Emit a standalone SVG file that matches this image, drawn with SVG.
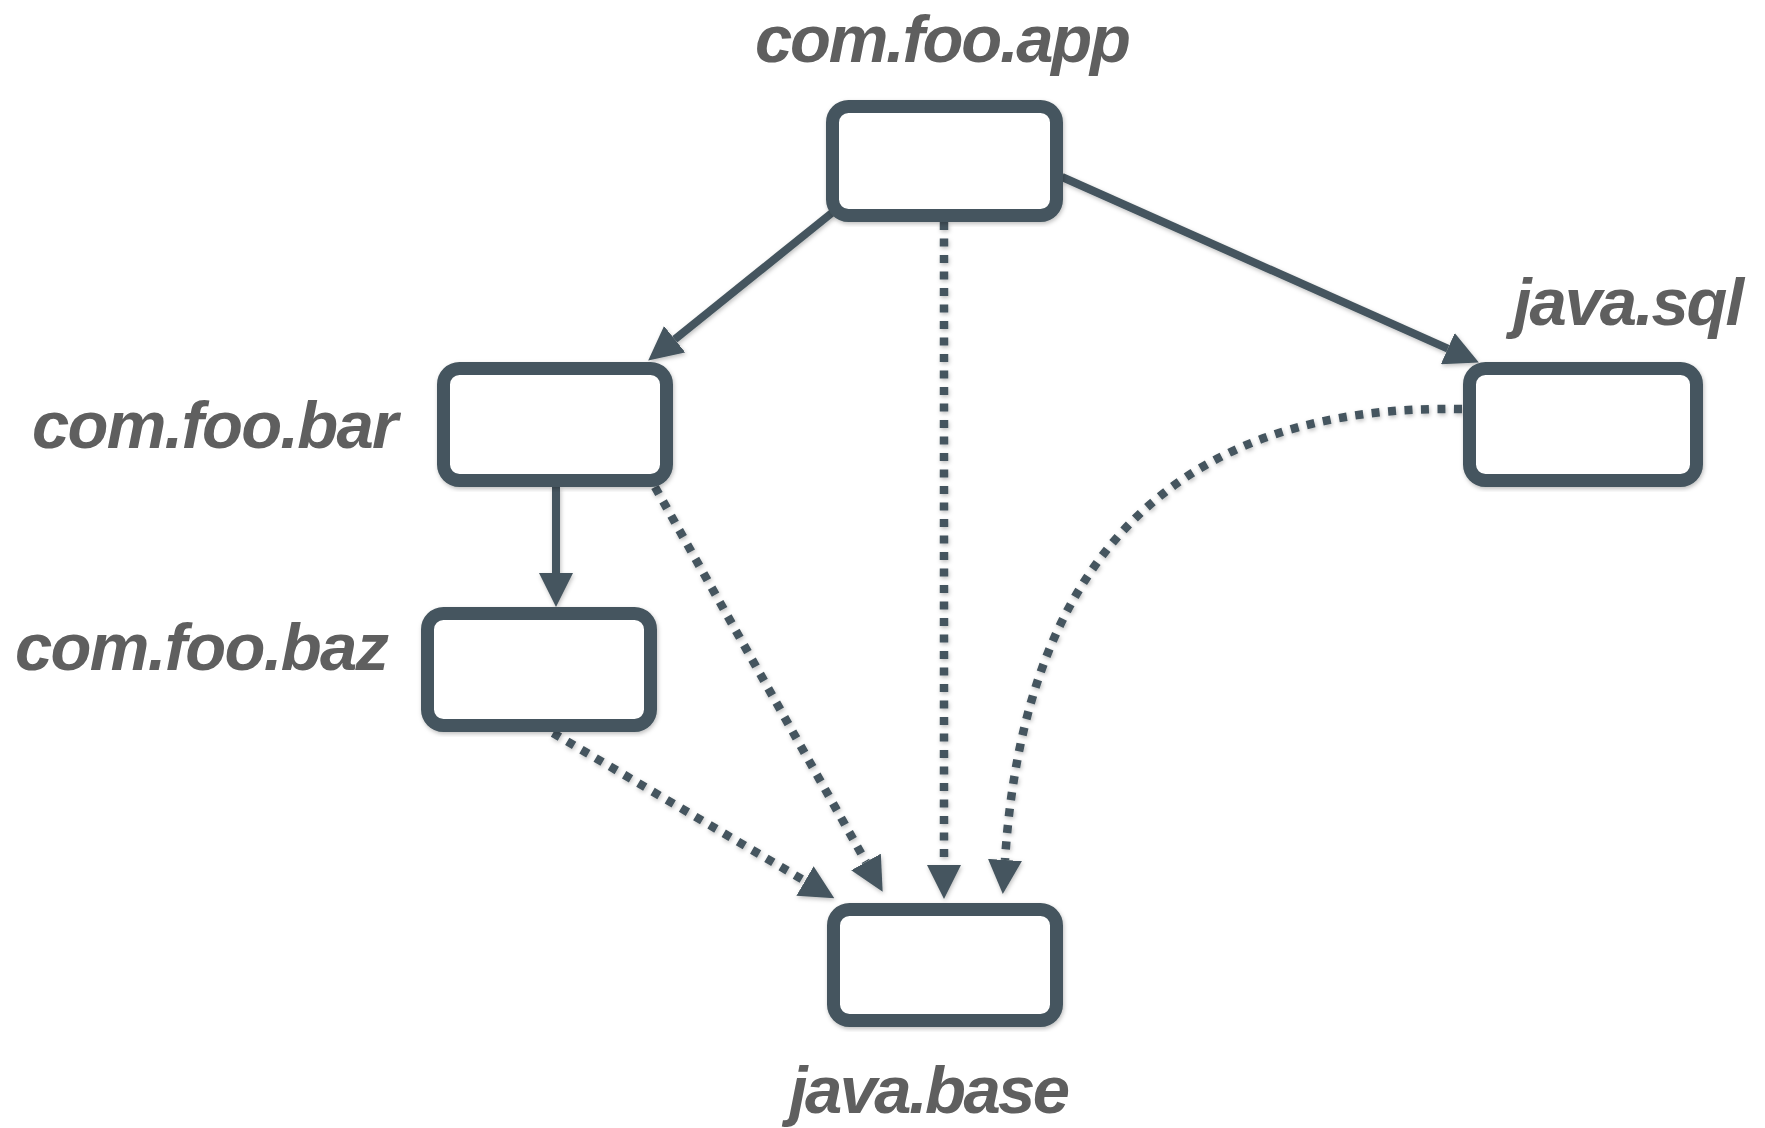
<svg xmlns="http://www.w3.org/2000/svg" width="1765" height="1128" viewBox="0 0 1765 1128">
<style>
.box{fill:#ffffff;stroke:#45555e;stroke-width:13}
.lbl{font-family:"Liberation Sans",Arial,sans-serif;font-weight:bold;font-style:italic;font-size:67px;fill:#5f5f5f}
.solid{fill:none;stroke:#45555e;stroke-width:8}
.dot{fill:none;stroke:#45555e;stroke-width:8.5;stroke-dasharray:8 8.5}
</style>
<defs>
<filter id="sh" x="-10%" y="-10%" width="120%" height="120%">
<feDropShadow dx="1" dy="2" stdDeviation="2" flood-color="#000" flood-opacity="0.25"/>
</filter>
<marker id="ah" markerUnits="userSpaceOnUse" viewBox="0 -17 34 34" refX="0" refY="0" markerWidth="34" markerHeight="34" orient="auto">
<path d="M0,-17 L34,0 L0,17 z" fill="#45555e"/>
</marker>
</defs>
<g id="connectors" filter="url(#sh)">
<path class="solid" d="M833,212 L674.7,339.3" marker-end="url(#ah)"/>
<path class="solid" d="M1062,177 L1447.8,348.6" marker-end="url(#ah)"/>
<path class="solid" d="M556,487 L556,573" marker-end="url(#ah)"/>
<path class="dot" d="M944,222 L944,865" marker-end="url(#ah)"/>
<path class="dot" d="M1462,409 C1185,404 1025,550 1005,860" marker-end="url(#ah)"/>
<path class="dot" d="M655,487 L866,862" marker-end="url(#ah)"/>
<path class="dot" d="M553,733 L805,881" marker-end="url(#ah)"/>
</g>
<g id="com.foo.app">
<rect class="box" x="832.5" y="106.5" width="224" height="109" rx="16" filter="url(#sh)"/>
<text class="lbl" x="755" y="62" textLength="376" lengthAdjust="spacing">com.foo.app</text>
</g>
<g id="com.foo.bar">
<rect class="box" x="443.5" y="368.5" width="223" height="112" rx="16" filter="url(#sh)"/>
<text class="lbl" x="32" y="448" textLength="366" lengthAdjust="spacing">com.foo.bar</text>
</g>
<g id="java.sql">
<rect class="box" x="1469.5" y="368.5" width="227" height="112" rx="16" filter="url(#sh)"/>
<text class="lbl" x="1513" y="325" textLength="231" lengthAdjust="spacing">java.sql</text>
</g>
<g id="com.foo.baz">
<rect class="box" x="427.5" y="613.5" width="223" height="112" rx="16" filter="url(#sh)"/>
<text class="lbl" x="15" y="670" textLength="374" lengthAdjust="spacing">com.foo.baz</text>
</g>
<g id="java.base">
<rect class="box" x="833.5" y="909.5" width="223" height="111" rx="16" filter="url(#sh)"/>
<text class="lbl" x="789" y="1113" textLength="281" lengthAdjust="spacing">java.base</text>
</g>
</svg>
